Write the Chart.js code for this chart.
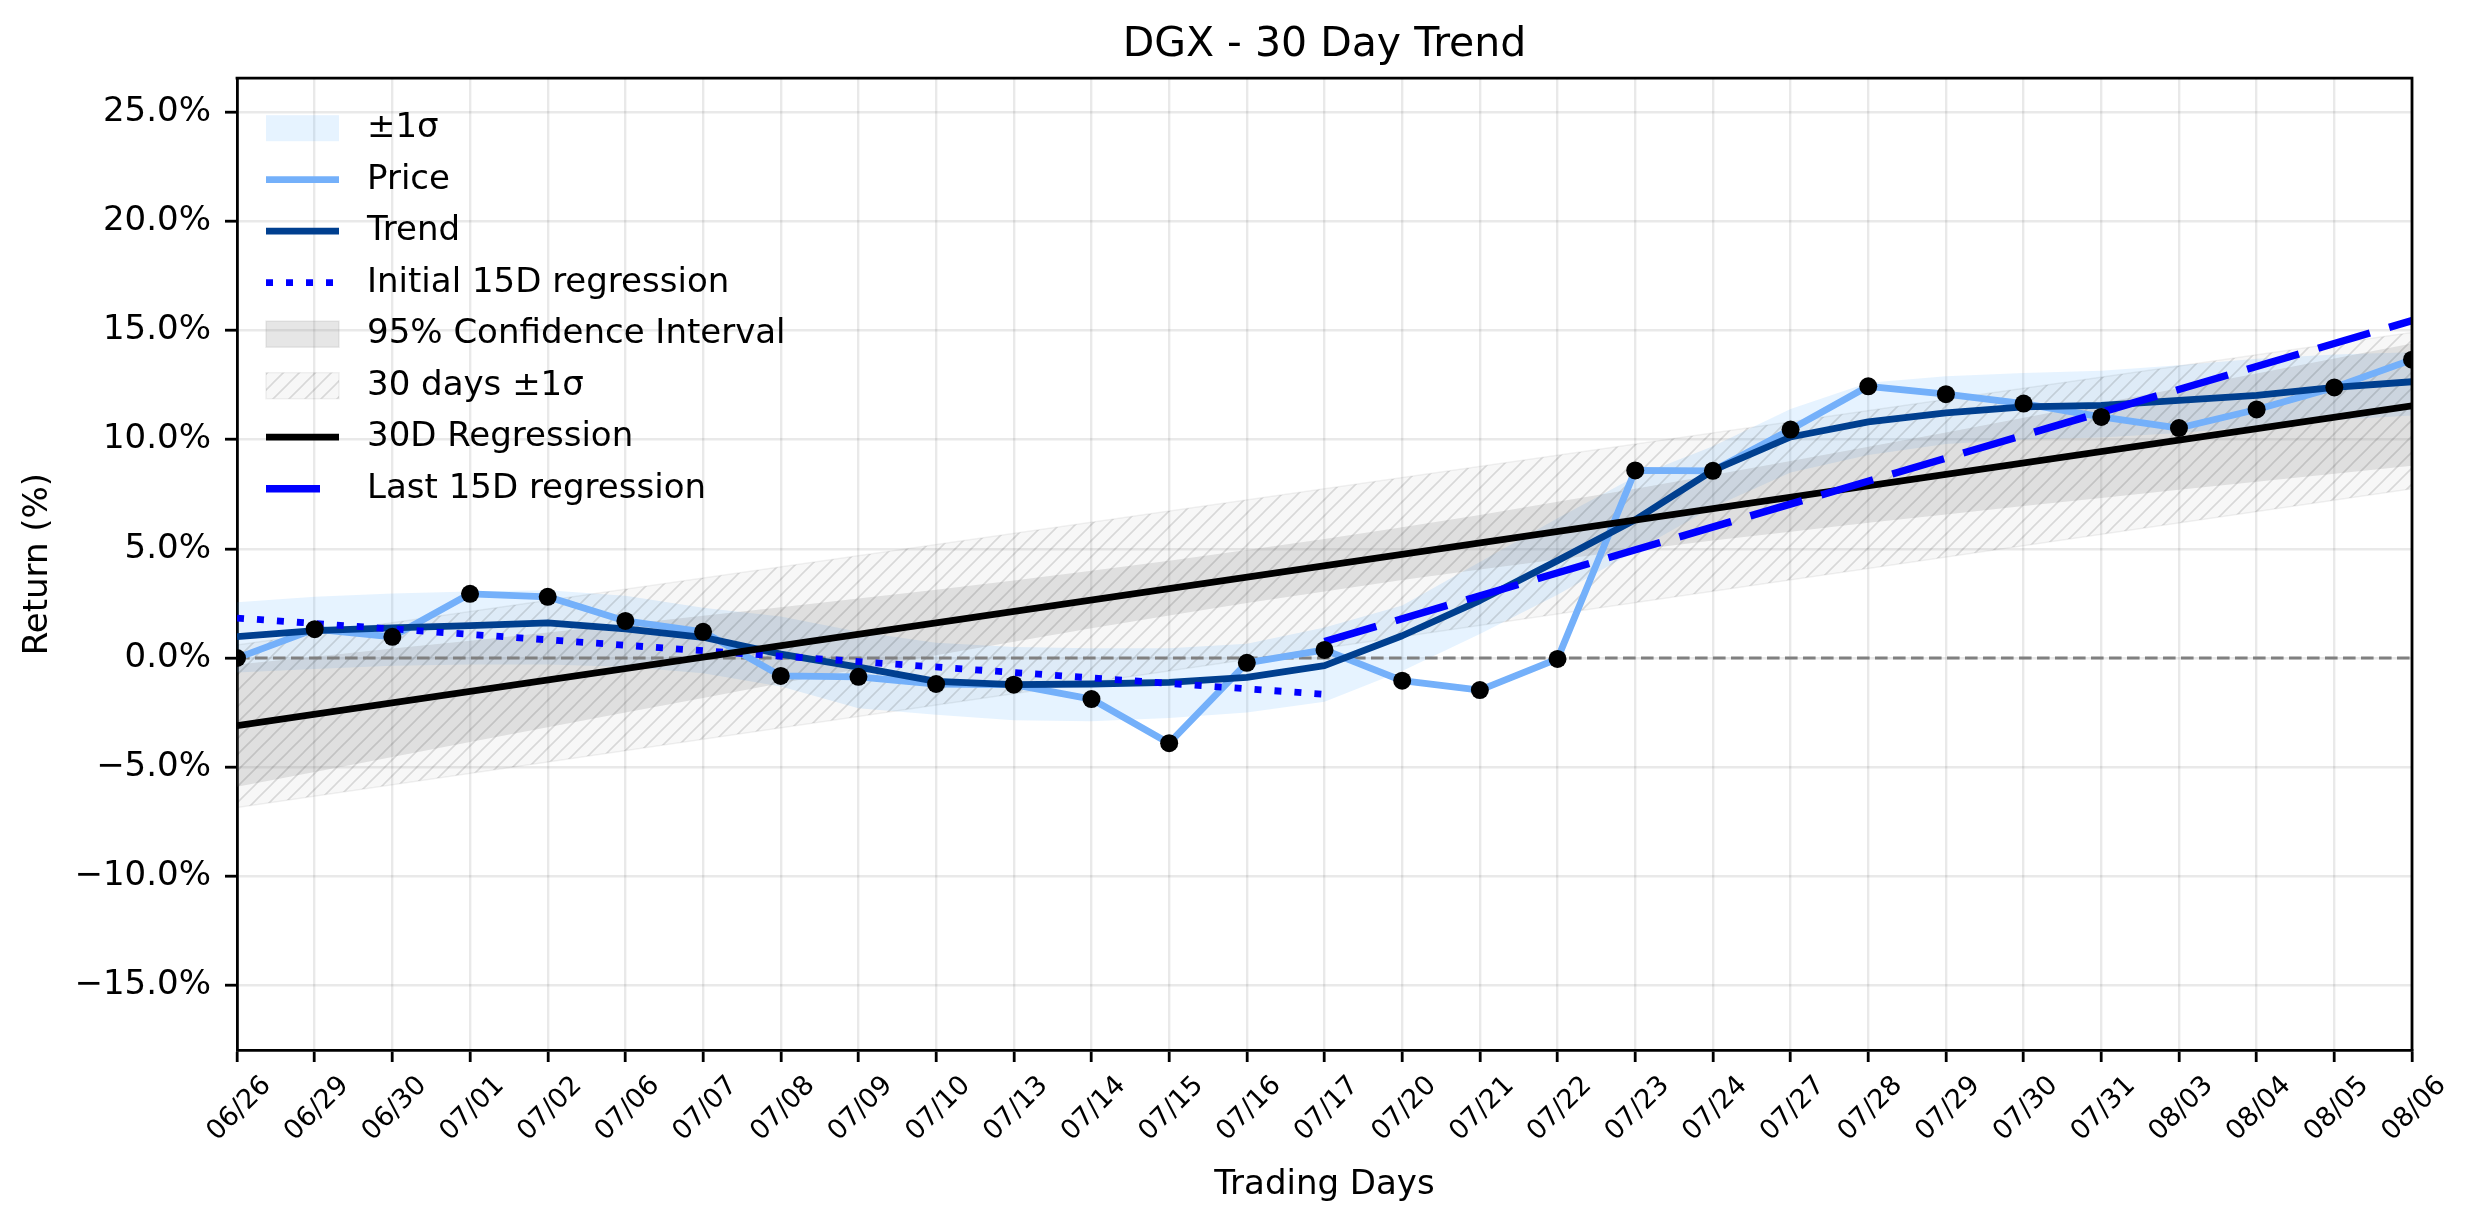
<!DOCTYPE html>
<html>
<head>
<meta charset="utf-8">
<title>DGX - 30 Day Trend</title>
<script src="https://cdn.jsdelivr.net/npm/chart.js@4.4.1/dist/chart.umd.min.js"></script>
<style>
    html, body { margin: 0; padding: 0; background: #fff; }
    #wrap { width: 2474px; height: 1224px; position: relative; }
</style>
</head>
<body>
<div id="wrap"><canvas id="trendChart"></canvas></div>
<script>
// trading days on the x axis (index = position)
const dates = ["06/26", "06/29", "06/30", "07/01", "07/02", "07/06", "07/07", "07/08", "07/09", "07/10",
    "07/13", "07/14", "07/15", "07/16", "07/17", "07/20", "07/21", "07/22", "07/23", "07/24",
    "07/27", "07/28", "07/29", "07/30", "07/31", "08/03", "08/04", "08/05", "08/06"];

// returns in %
const price = [0.0, 1.32, 0.97, 2.94, 2.80, 1.70, 1.20, -0.82, -0.86, -1.19,
    -1.22, -1.88, -3.90, -0.22, 0.37, -1.04, -1.47, -0.04, 8.59, 8.57,
    10.46, 12.44, 12.08, 11.65, 11.04, 10.53, 11.38, 12.39, 13.66];
const trend = [0.98, 1.25, 1.38, 1.48, 1.61, 1.33, 0.95, 0.18, -0.42, -1.07,
    -1.22, -1.19, -1.12, -0.89, -0.35, 1.02, 2.63, 4.46, 6.33, 8.59,
    10.12, 10.81, 11.22, 11.50, 11.57, 11.80, 12.03, 12.39, 12.65];
const sigmaUpper = [2.55, 2.80, 2.95, 3.05, 3.10, 2.85, 2.30, 1.90, 1.20, 0.70,
    0.50, 0.45, 0.45, 0.65, 1.40, 2.40, 4.40, 6.40, 8.30, 9.70,
    11.40, 12.60, 12.90, 13.05, 13.15, 13.40, 13.70, 13.90, 14.00];
const sigmaLower = [-0.66, -0.50, -0.35, -0.30, -0.30, -0.40, -0.70, -1.30, -2.30, -2.60,
    -2.85, -2.90, -2.75, -2.50, -2.00, -0.60, 1.10, 2.90, 4.90, 6.90,
    8.50, 9.30, 9.80, 10.00, 10.10, 10.30, 10.60, 10.90, 11.10];
const ciUpper = [-0.30, 0.06, 0.43, 0.79, 1.17, 1.54, 1.93, 2.32, 2.72, 3.13,
    3.55, 4.00, 4.45, 4.94, 5.45, 5.99, 6.55, 7.15, 7.75, 8.38,
    9.02, 9.67, 10.33, 11.00, 11.67, 12.35, 13.03, 13.72, 14.40];
const ciLower = [-5.90, -5.22, -4.53, -3.85, -3.17, -2.50, -1.83, -1.16, -0.52, 0.13,
    0.75, 1.36, 1.95, 2.52, 3.05, 3.57, 4.05, 4.51, 4.95, 5.38,
    5.78, 6.19, 6.57, 6.96, 7.33, 7.71, 8.07, 8.44, 8.80];

// straight lines: [start, end] over the given day indices
const fullSpan = [0, 28];
const reg30 = [-3.10, 11.55];
const band30Upper = [0.60, 14.90];
const band30Lower = [-6.85, 7.75];
const firstSpan = [0, 14];
const reg15First = [1.83, -1.66];
const lastSpan = [14, 28];
const reg15Last = [0.75, 15.45];
const zeroLine = [0, 0];

const yTicks = [-15, -10, -5, 0, 5, 10, 15, 20, 25];

function pts(xs, ys) {
    return ys.map((y, i) => ({ x: xs[i], y: y }));
}
const idx = dates.map((d, i) => i);

function makeHatch() {
    const c = document.createElement("canvas");
    c.width = 16; c.height = 16;
    const g = c.getContext("2d");
    g.fillStyle = "rgba(0,0,0,0.03)";
    g.fillRect(0, 0, 16, 16);
    g.strokeStyle = "rgba(0,0,0,0.13)";
    g.lineWidth = 1.6;
    g.beginPath();
    g.moveTo(0, 16); g.lineTo(16, 0);
    g.moveTo(-4, 4); g.lineTo(4, -4);
    g.moveTo(12, 20); g.lineTo(20, 12);
    g.stroke();
    return g.createPattern(c, "repeat");
}
const hatch = makeHatch();

const FONT = "'DejaVu Sans', 'Liberation Sans', sans-serif";

// legend drawn inside the plot, upper left, like the original
const insideLegend = {
    id: "insideLegend",
    afterDatasetsDraw(chart) {
        const { ctx, chartArea } = chart;
        const items = chart.data.datasets.filter(d => d.label);
        ctx.save();
        items.forEach((d, k) => {
            const cy = chartArea.top + 50 + k * 51.5;
            const x0 = chartArea.left + 29;
            if (d.fill) {
                ctx.fillStyle = d.backgroundColor;
                ctx.fillRect(x0, cy - 13, 73, 26);
                if (d.legendEdge) {
                    ctx.strokeStyle = d.legendEdge;
                    ctx.lineWidth = 1.5;
                    ctx.strokeRect(x0, cy - 13, 73, 26);
                }
            } else {
                ctx.strokeStyle = d.borderColor;
                ctx.lineWidth = d.borderWidth;
                ctx.setLineDash(d.borderDash || []);
                ctx.lineCap = "butt";
                ctx.beginPath();
                ctx.moveTo(x0, cy);
                ctx.lineTo(x0 + 73, cy);
                ctx.stroke();
                ctx.setLineDash([]);
            }
            ctx.fillStyle = "#000";
            ctx.font = "34px " + FONT;
            ctx.textBaseline = "middle";
            ctx.textAlign = "left";
            ctx.fillText(d.label, chartArea.left + 130, cy);
        });
        ctx.restore();
    }
};

// top and right spines
const frame = {
    id: "frame",
    afterDraw(chart) {
        const { ctx, chartArea: a } = chart;
        ctx.save();
        ctx.strokeStyle = "#000";
        ctx.lineWidth = 2.8;
        ctx.beginPath();
        ctx.moveTo(a.left - 1.4, a.top);
        ctx.lineTo(a.right, a.top);
        ctx.lineTo(a.right, a.bottom + 1.4);
        ctx.stroke();
        ctx.restore();
    }
};

const line = (extra) => Object.assign({
    pointRadius: 0, fill: false, tension: 0, borderCapStyle: "butt", borderJoinStyle: "round"
}, extra);

new Chart(document.getElementById("trendChart"), {
    type: "line",
    data: {
        datasets: [
            // ±1σ band around trend
            line({ data: pts(idx, sigmaLower), borderWidth: 0, order: 20 }),
            line({ label: "\u00b11\u03c3", data: pts(idx, sigmaUpper), borderWidth: 0, fill: "-1",
                backgroundColor: "rgba(30,144,255,0.11)", order: 19 }),
            line({ label: "Price", data: pts(idx, price), borderColor: "#74b0fa", borderWidth: 6.8, order: 9 }),
            line({ label: "Trend", data: pts(idx, trend), borderColor: "#003f8f", borderWidth: 6.8, order: 8 }),
            line({ label: "Initial 15D regression", data: pts(firstSpan, reg15First), borderColor: "#0000ff",
                borderWidth: 6.8, borderDash: [7, 13], order: 7 }),
            // 95% CI
            line({ data: pts(idx, ciLower), borderWidth: 0, order: 18 }),
            line({ label: "95% Confidence Interval", data: pts(idx, ciUpper), borderWidth: 0, fill: "-1",
                backgroundColor: "rgba(128,128,128,0.2)", legendEdge: "rgba(128,128,128,0.15)", order: 17 }),
            // 30 days ±1σ hatched
            line({ data: pts(fullSpan, band30Lower), borderWidth: 1.5, borderColor: "rgba(0,0,0,0.06)", order: 16 }),
            line({ label: "30 days \u00b11\u03c3", data: pts(fullSpan, band30Upper), borderWidth: 1.5,
                borderColor: "rgba(0,0,0,0.06)", fill: "-1", backgroundColor: hatch,
                legendEdge: "rgba(0,0,0,0.06)", order: 15 }),
            line({ label: "30D Regression", data: pts(fullSpan, reg30), borderColor: "#000", borderWidth: 6.8, order: 6 }),
            line({ label: "Last 15D regression", data: pts(lastSpan, reg15Last), borderColor: "#0000ff",
                borderWidth: 7.4, borderDash: [54, 20], order: 5 }),
            // zero reference line
            line({ data: pts(fullSpan, zeroLine), borderColor: "#808080", borderWidth: 2.8,
                borderDash: [12.6, 5.4], order: 12 }),
            // price markers
            { data: pts(idx, price), showLine: false, pointRadius: 9, pointBackgroundColor: "#000",
                pointBorderWidth: 0, clip: 0, order: 1 }
        ]
    },
    options: {
        responsive: true,
        maintainAspectRatio: false,
        animation: false,
        events: [],
        layout: { padding: { left: 0, right: 62, top: 0, bottom: 0 } },
        plugins: {
            legend: { display: false },
            tooltip: { enabled: false },
            title: {
                display: true,
                text: "DGX - 30 Day Trend",
                fullSize: false,
                color: "#000",
                font: { family: FONT, size: 41, weight: "normal" },
                padding: { top: 21, bottom: 8 }
            }
        },
        scales: {
            x: {
                type: "linear",
                min: 0,
                max: 28,
                afterBuildTicks: s => { s.ticks = idx.map(v => ({ value: v })); },
                afterFit: s => { s.height = 174; },
                grid: { color: "rgba(0,0,0,0.085)", lineWidth: 2.4, tickColor: "#000", tickWidth: 2.8, tickLength: 12 },
                border: { color: "#000", width: 2.8 },
                ticks: {
                    autoSkip: false,
                    minRotation: 45,
                    maxRotation: 45,
                    labelOffset: 30,
                    padding: 8,
                    color: "#000",
                    font: { family: FONT, size: 27 },
                    callback: v => dates[v]
                },
                title: {
                    display: true,
                    text: "Trading Days",
                    color: "#000",
                    font: { family: FONT, size: 34 },
                    padding: { bottom: 18 }
                }
            },
            y: {
                min: -17.95,
                max: 26.55,
                afterBuildTicks: s => { s.ticks = yTicks.map(v => ({ value: v })); },
                afterFit: s => { s.width = 237; },
                grid: { color: "rgba(0,0,0,0.085)", lineWidth: 2.4, tickColor: "#000", tickWidth: 2.8, tickLength: 12 },
                border: { color: "#000", width: 2.8 },
                ticks: {
                    padding: 14,
                    color: "#000",
                    font: { family: FONT, size: 34 },
                    callback: v => (v < 0 ? "\u2212" : "") + Math.abs(v).toFixed(1) + "%"
                },
                title: {
                    display: true,
                    text: "Return (%)",
                    color: "#000",
                    font: { family: FONT, size: 34 },
                    padding: { top: 18 }
                }
            }
        }
    },
    plugins: [insideLegend, frame]
});
</script>
</body>
</html>
